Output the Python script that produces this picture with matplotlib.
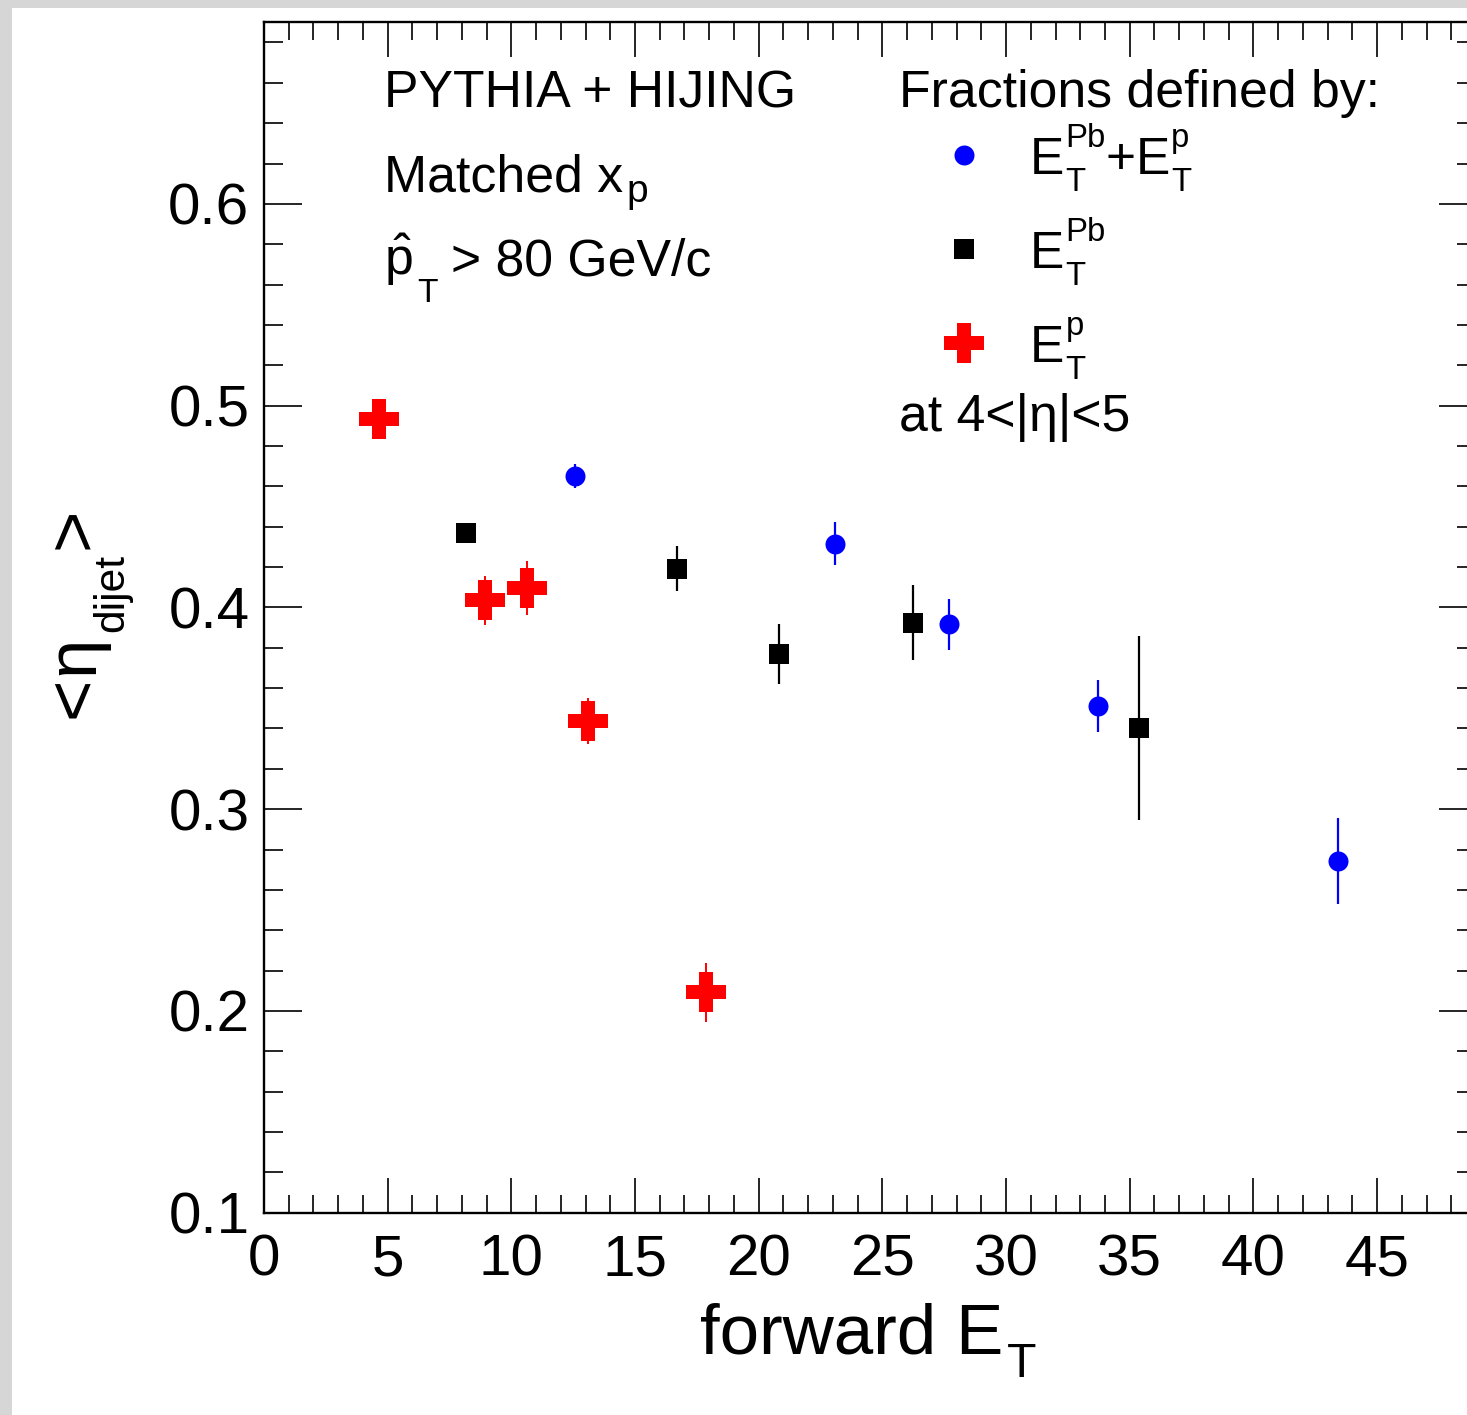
import math
import matplotlib
matplotlib.use("Agg")
import matplotlib.pyplot as plt
from matplotlib.lines import Line2D
from matplotlib.patches import Rectangle
from matplotlib.ticker import MultipleLocator
from matplotlib.transforms import IdentityTransform

plt.rcParams['font.family'] = ['Liberation Sans', 'DejaVu Sans']
plt.rcParams['mathtext.fontset'] = 'custom'
plt.rcParams['mathtext.rm'] = 'Liberation Sans'
plt.rcParams['mathtext.it'] = 'Liberation Sans'
plt.rcParams['mathtext.bf'] = 'Liberation Sans:bold'
plt.rcParams['mathtext.default'] = 'regular'

# ---- data ----
blue_x = [12.58, 23.08, 27.70, 33.71, 43.44]
blue_y = [0.465, 0.4316, 0.3916, 0.3511, 0.2742]
blue_err = [0.006, 0.0105, 0.0125, 0.013, 0.0214]

black_x = [8.18, 16.69, 20.84, 26.23, 35.38]
black_y = [0.437, 0.4192, 0.3768, 0.3924, 0.340]
black_err = [0.004, 0.0112, 0.0149, 0.0186, 0.0456]

red_x = [4.65, 8.94, 10.65, 13.10, 17.85]
red_y = [0.4932, 0.4035, 0.4096, 0.3436, 0.2092]
red_err = [0.008, 0.012, 0.0135, 0.0115, 0.0148]

xticks = [0, 5, 10, 15, 20, 25, 30, 35, 40, 45]
yticks = [0.1, 0.2, 0.3, 0.4, 0.5, 0.6]

W, H = 1467, 1415
fig = plt.figure(figsize=(W / 100, H / 100), dpi=100)
fig.patch.set_facecolor('#d6d6d6')
fig.add_artist(Rectangle((12 / W, 0), (W - 12) / W, (H - 8) / H,
                         transform=fig.transFigure, facecolor='white',
                         edgecolor='none', zorder=-10))
renderer = fig.canvas.get_renderer()


def fx(px):
    return px / W


def fy(py):
    return 1 - py / H


def measure(s, size):
    t = fig.text(0, 0, s, fontsize=size, transform=IdentityTransform())
    w = t.get_window_extent(renderer).width
    t.remove()
    return w


def rich(x, y, tokens, size, rotation=0, center=False):
    """ROOT-like text with subscripts / superscripts.
    x, y: image pixel coords (top-left origin) of the baseline start.
    tokens: (text, shift_em, scale, gap_px, advance)."""
    em = size * 100 / 72.0
    th = math.radians(rotation)
    dx, dy = math.cos(th), math.sin(th)
    ux, uy = -math.sin(th), math.cos(th)
    layout = []
    cur = 0.0
    pend = None
    for text, shift, sc, gap, adv in tokens:
        start = cur + gap
        w = measure(text, size * sc)
        layout.append((text, shift, sc, start))
        end = start + w
        if adv:
            cur = max(end, pend) if pend is not None else end
            pend = None
        else:
            pend = end
    total = cur
    off = -total / 2 if center else 0.0
    X0, Y0 = x, H - y
    for text, shift, sc, start in layout:
        a = start + off
        s = shift * em
        fig.text(X0 + a * dx + s * ux, Y0 + a * dy + s * uy, text,
                 fontsize=size * sc, rotation=rotation,
                 rotation_mode='anchor', ha='left', va='baseline',
                 transform=IdentityTransform())


ax_left, ax_right, ax_top, ax_bot = 264, 1476, 22.3, 1212.7
ax = fig.add_axes([fx(ax_left), fy(ax_bot), (ax_right - ax_left) / W,
                   (ax_bot - ax_top) / H])
ax.set_facecolor('none')

ax.errorbar(blue_x, blue_y, yerr=blue_err, fmt='o', color='#0000ff',
            ms=14.4, mew=0, elinewidth=1.6, capsize=0, zorder=3)
ax.errorbar(black_x, black_y, yerr=black_err, fmt='s', color='black',
            ms=14.4, mew=0, elinewidth=1.6, capsize=0, zorder=3)
ax.errorbar(red_x, red_y, yerr=red_err, fmt='P', color='#ff0000',
            ms=28.8, mew=0, elinewidth=1.4, capsize=0, zorder=3)

ax.set_xlim(0, 49)
ax.set_ylim(0.1, 0.69)
ax.set_xticks(xticks)
ax.set_xticklabels([str(t) for t in xticks])
ax.set_yticks(yticks)
ax.set_yticklabels(['%.1f' % t for t in yticks])
ax.xaxis.set_minor_locator(MultipleLocator(1))
ax.yaxis.set_minor_locator(MultipleLocator(0.02))
ax.tick_params(axis='both', which='both', direction='in', top=True,
               right=True, width=1.2, labelsize=42)
ax.tick_params(axis='x', which='major', length=25, pad=15)
ax.tick_params(axis='x', which='minor', length=12.7)
ax.tick_params(axis='y', which='major', length=27, pad=10.5)
ax.tick_params(axis='y', which='minor', length=13.5)
for s in ax.spines.values():
    s.set_linewidth(1.7)

# axis titles
rich(868, 1353, [('forward E', 0, 1, 0, True),
                 ('T', -0.34, 0.68, 3, True)], 51, center=True)
rich(93, 718, [('<', 0, 1, 0, True),
               ('η', 0, 1, 2, True),
               ('dijet', -0.42, 0.6, 3, True),
               ('>', 0, 1, 5, True)], 51, rotation=90)

# annotations
fs = 37.3
fig.text(fx(384), fy(108), 'PYTHIA + HIJING', fontsize=fs, va='baseline')
rich(384, 192, [('Matched x', 0, 1, 0, True),
                ('p', -0.19, 0.75, 3, True)], fs)
rich(384, 275, [(r'$\hat{p}$', 0, 1, 0, True),
                ('T', -0.52, 0.65, 5, True),
                ('> 80 GeV/c', 0, 1, 13, True)], fs)
fig.text(fx(899), fy(107), 'Fractions defined by:', fontsize=fs,
         va='baseline')
fig.text(fx(899), fy(431), 'at 4<|η|<5', fontsize=fs, va='baseline')

# legend keys
fig.add_artist(Line2D([fx(964.3)], [fy(155)], transform=fig.transFigure,
                      marker='o', color='#0000ff', ms=14.4, mew=0, ls='none'))
fig.add_artist(Line2D([fx(964.3)], [fy(249)], transform=fig.transFigure,
                      marker='s', color='black', ms=14.4, mew=0, ls='none'))
fig.add_artist(Line2D([fx(964.3)], [fy(343.3)], transform=fig.transFigure,
                      marker='P', color='#ff0000', ms=28.8, mew=0, ls='none'))
rich(1030, 174, [('E', 0, 1, 0, True),
                 ('T', -0.34, 0.64, 1, False),
                 ('Pb', 0.53, 0.64, 1, True),
                 ('+', 0, 1, 0, True),
                 ('E', 0, 1, 0, True),
                 ('T', -0.34, 0.64, 1, False),
                 ('p', 0.53, 0.64, 1, True)], 37)
rich(1030, 268, [('E', 0, 1, 0, True),
                 ('T', -0.34, 0.64, 1, False),
                 ('Pb', 0.53, 0.64, 1, True)], 37)
rich(1030, 362, [('E', 0, 1, 0, True),
                 ('T', -0.34, 0.64, 1, False),
                 ('p', 0.53, 0.64, 1, True)], 37)

fig.savefig('out.png', dpi=100, facecolor=fig.get_facecolor())
